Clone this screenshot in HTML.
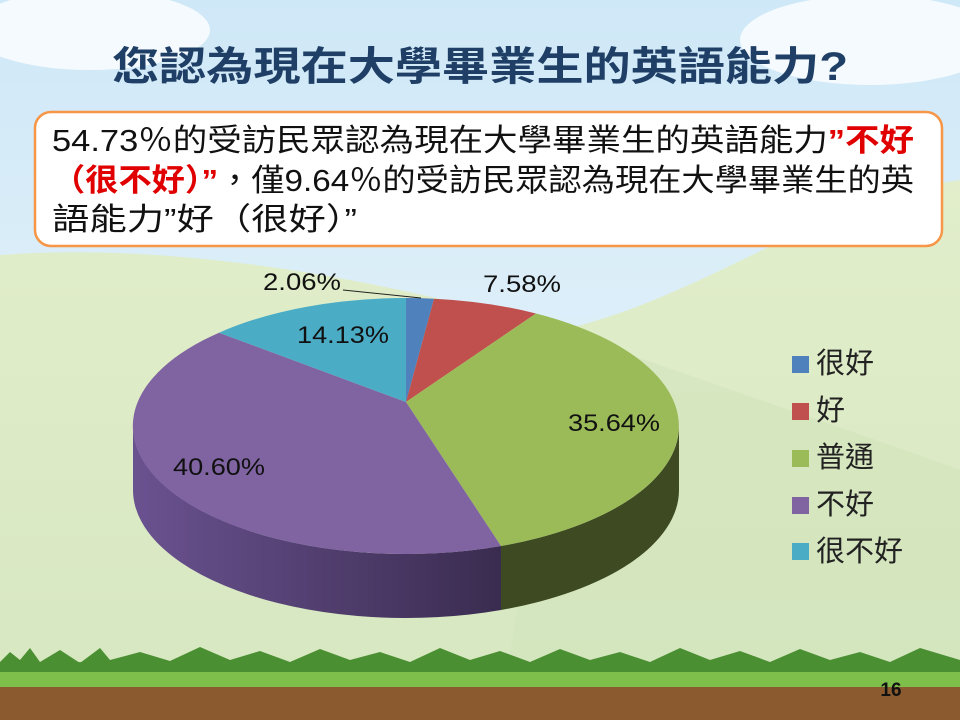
<!DOCTYPE html>
<html><head><meta charset="utf-8"><style>
body{margin:0;width:960px;height:720px;overflow:hidden;font-family:"Liberation Sans","Noto Sans CJK TC",sans-serif;}
</style></head><body>
<svg width="960" height="720" viewBox="0 0 960 720" xmlns="http://www.w3.org/2000/svg">
<defs>
<linearGradient id="sky" x1="0" y1="0" x2="0" y2="1"><stop offset="0" stop-color="#cfe8f7"/><stop offset="1" stop-color="#eef7fb"/></linearGradient>
<linearGradient id="hill" x1="0" y1="0" x2="0" y2="1"><stop offset="0" stop-color="#e2eecb"/><stop offset="1" stop-color="#d6e7c0"/></linearGradient>
<linearGradient id="pside" x1="0" y1="0" x2="1" y2="0"><stop offset="0" stop-color="#6a5290"/><stop offset="1" stop-color="#3a2c50"/></linearGradient>
</defs>
<rect width="960" height="720" fill="url(#sky)"/>
<ellipse cx="90" cy="30" rx="120" ry="40" fill="#f4fafd"/>
<ellipse cx="870" cy="40" rx="130" ry="45" fill="#f4fafd"/>
<path d="M0,255 C200,240 420,290 560,330 C700,300 820,200 960,180 L960,720 L0,720 Z" fill="url(#hill)"/>
<path d="M560,330 C700,380 850,430 960,470 L960,720 L500,720 Z" fill="#d2e4bc" opacity="0.6"/>
<rect x="0" y="662" width="960" height="28" fill="#5aa33c"/>
<path d="M0,662 L10,652 L20,660 L30,648 L40,662 L60,650 L80,663 L100,648 L110,660 L140,652 L170,661 L200,647 L230,660 L260,651 L290,662 L320,649 L350,660 L380,652 L410,662 L440,648 L470,660 L500,651 L530,662 L560,649 L590,660 L620,652 L650,662 L680,648 L710,660 L740,651 L770,662 L800,649 L830,660 L860,652 L890,662 L920,648 L960,660 L960,672 L0,672Z" fill="#4a8f32"/>
<rect x="0" y="672" width="960" height="15" fill="#7dbf4a"/>
<rect x="0" y="687" width="960" height="33" fill="#8b5a2e"/>
<text x="480" y="80" text-anchor="middle" font-size="40" font-weight="bold" fill="#1f3f66" textLength="736" lengthAdjust="spacingAndGlyphs" font-family="Liberation Sans, Noto Sans CJK TC, sans-serif">您認為現在大學畢業生的英語能力?</text>
<rect x="35" y="112" width="907" height="134" rx="16" fill="#fff" stroke="#f79646" stroke-width="2.5"/>
<g font-size="31" fill="#111" font-family="Liberation Sans, Noto Sans CJK TC, sans-serif">
<text x="52" y="151" textLength="862" lengthAdjust="spacingAndGlyphs">54.73％的受訪民眾認為現在大學畢業生的英語能力<tspan fill="#e00000" font-weight="bold">”不好</tspan></text>
<text x="52" y="191" textLength="862" lengthAdjust="spacingAndGlyphs"><tspan fill="#e00000" font-weight="bold">（很不好）”</tspan>，僅9.64％的受訪民眾認為現在大學畢業生的英</text>
<text x="52" y="230" textLength="305" lengthAdjust="spacingAndGlyphs">語能力”好（很好）”</text>
</g>
<path d="M679,426 A273 128 0 0 1 501,546 L501,610 A273 128 0 0 0 679,490 Z" fill="#3e4b22"/>
<path d="M501,546 A273 128 0 0 1 133,426 L133,490 A273 128 0 0 0 501,610 Z" fill="url(#pside)"/>
<path d="M406,402 L406,298 A273 128 0 0 1 434,298.7 Z" fill="#4f81bd"/>
<path d="M406,402 L434,298.7 A273 128 0 0 1 536,313.5 Z" fill="#c0504d"/>
<path d="M406,402 L536,313.5 A273 128 0 0 1 501,546 Z" fill="#9bbb59"/>
<path d="M406,402 L501,546 A273 128 0 0 1 219,332.7 Z" fill="#8064a2"/>
<path d="M406,402 L219,332.7 A273 128 0 0 1 406,298 Z" fill="#4bacc6"/>
<line x1="343" y1="290" x2="421" y2="298" stroke="#222" stroke-width="1"/>
<g font-size="24" fill="#111" font-family="Liberation Sans, sans-serif">
<text x="263" y="290" textLength="78" lengthAdjust="spacingAndGlyphs">2.06%</text>
<text x="483" y="292" textLength="78" lengthAdjust="spacingAndGlyphs">7.58%</text>
<text x="297" y="343" textLength="92" lengthAdjust="spacingAndGlyphs">14.13%</text>
<text x="568" y="431" textLength="92" lengthAdjust="spacingAndGlyphs">35.64%</text>
<text x="173" y="475" textLength="92" lengthAdjust="spacingAndGlyphs">40.60%</text>
</g>
<g font-size="29" fill="#222" font-family="Noto Sans CJK TC, sans-serif">
<rect x="792" y="356" width="17" height="17" fill="#4f81bd"/><text x="816" y="373">很好</text>
<rect x="792" y="403" width="17" height="17" fill="#c0504d"/><text x="816" y="420">好</text>
<rect x="792" y="450" width="17" height="17" fill="#9bbb59"/><text x="816" y="467">普通</text>
<rect x="792" y="497" width="17" height="17" fill="#8064a2"/><text x="816" y="514">不好</text>
<rect x="792" y="543" width="17" height="17" fill="#4bacc6"/><text x="816" y="561">很不好</text>
</g>
<text x="891" y="696" text-anchor="middle" font-size="19" font-weight="bold" fill="#111">16</text>
</svg>
</body></html>
